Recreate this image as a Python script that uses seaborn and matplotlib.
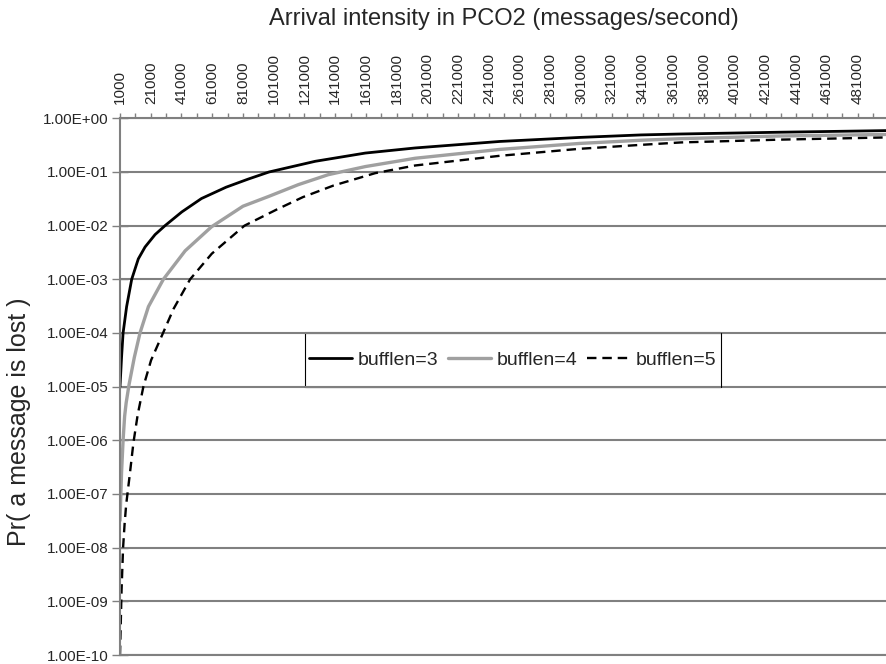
import numpy as np
import pandas as pd
import matplotlib
matplotlib.use('Agg')
import matplotlib.pyplot as plt
import matplotlib.ticker as mticker
from matplotlib.patches import Rectangle
import seaborn as sns

# arrival intensity (messages/second) and loss probability
x_b3 = [1000, 2000, 3000, 5300, 8600, 12900, 17300, 23800, 30300, 41200, 54000,
        70000, 84600, 98000, 128000, 160600, 193000, 248000, 300000, 340000,
        366000, 430000, 500000]
p_b3 = [1.0e-5, 3.5e-5, 1.0e-4, 3.1e-4, 1.0e-3, 2.4e-3, 4.0e-3, 6.8e-3, 1.0e-2,
        1.8e-2, 3.2e-2, 5.2e-2, 7.4e-2, 0.10, 0.158, 0.225, 0.28, 0.37, 0.44,
        0.49, 0.51, 0.55, 0.59]

x_b4 = [1000, 2000, 3000, 4000, 5000, 6900, 10300, 14000, 19500, 29200, 43400,
        60500, 81000, 97700, 117000, 136500, 160600, 193000, 248000, 300000,
        340000, 366000, 430000, 500000]
p_b4 = [3.2e-8, 2.5e-7, 1.0e-6, 2.8e-6, 5.0e-6, 1.1e-5, 3.5e-5, 1.0e-4, 3.1e-4,
        1.0e-3, 3.4e-3, 9.5e-3, 2.3e-2, 3.5e-2, 5.8e-2, 8.9e-2, 0.126, 0.18,
        0.263, 0.34, 0.39, 0.417, 0.468, 0.50]

x_b5 = [1000, 2000, 3000, 4000, 5000, 7500, 9700, 12500, 16200, 21200, 29000,
        35800, 46600, 60700, 82000, 103000, 120000, 140000, 167000, 193000,
        248000, 300000, 340000, 366000, 430000, 500000]
p_b5 = [1.0e-10, 1.6e-9, 1.0e-8, 2.8e-8, 6.3e-8, 2.5e-7, 8.9e-7, 3.0e-6, 1.0e-5,
        3.1e-5, 1.0e-4, 2.8e-4, 1.0e-3, 3.0e-3, 1.0e-2, 2.0e-2, 3.4e-2, 5.6e-2,
        9.5e-2, 0.132, 0.20, 0.27, 0.32, 0.355, 0.40, 0.44]

x_ticks = list(range(1000, 500001, 20000))
x_minor = list(range(11000, 500001, 20000))
y_ticks = [1e0, 1e-1, 1e-2, 1e-3, 1e-4, 1e-5, 1e-6, 1e-7, 1e-8, 1e-9, 1e-10]

sns.set_style("white")
plt.rcParams['font.family'] = ['Liberation Sans', 'DejaVu Sans']

fig = plt.figure(figsize=(8.87, 6.64), dpi=100)
ax = fig.add_axes([0.1353, 0.01355, 0.8647, 0.8083])

grid_col = '#808080'

sns.lineplot(x=x_b3, y=p_b3, ax=ax, color='black', linewidth=2.0,
             estimator=None, label='bufflen=3')
sns.lineplot(x=x_b4, y=p_b4, ax=ax, color='#a0a0a0', linewidth=2.4,
             estimator=None, label='bufflen=4')
sns.lineplot(x=x_b5, y=p_b5, ax=ax, color='black', linewidth=1.7,
             linestyle=(0, (4, 2.5)), estimator=None, label='bufflen=5')

ax.set_yscale('log')
ax.set_ylim(1e-10, 1e0)
ax.set_xlim(1000, 500000)

ax.yaxis.set_major_locator(mticker.FixedLocator(y_ticks))
ax.yaxis.set_minor_locator(mticker.NullLocator())
ax.yaxis.set_major_formatter(mticker.FuncFormatter(lambda v, pos: f"{v:.2E}"))
ax.xaxis.set_major_locator(mticker.FixedLocator(x_ticks))
ax.xaxis.set_minor_locator(mticker.FixedLocator(x_minor))
ax.xaxis.set_major_formatter(mticker.FuncFormatter(lambda v, pos: str(int(round(v)))))

ax.tick_params(axis='x', which='both', top=True, bottom=False, labeltop=True,
               labelbottom=False, direction='out', length=3.6, width=1,
               color=grid_col, labelrotation=90, labelsize=11, pad=7)
ax.tick_params(axis='y', which='major', left=True, direction='inout', length=11,
               width=1, color=grid_col, labelsize=11, pad=3)

ax.grid(axis='y', color=grid_col, linewidth=1.5)
ax.grid(axis='x', visible=False)
ax.set_axisbelow(True)
for side in ['left', 'top', 'bottom']:
    ax.spines[side].set_color(grid_col)
    ax.spines[side].set_linewidth(1.5)
ax.spines['right'].set_visible(False)

ax.set_xlabel('')
ax.set_ylabel('')

# legend box sits between the 1e-4 and 1e-5 gridlines
box = Rectangle((0.2415, 0.5), 0.5418, 0.1, transform=ax.transAxes,
                facecolor='white', edgecolor='black', linewidth=0.8, zorder=4)
ax.add_patch(box)
ax.hlines([0.5, 0.6], 0.2415, 0.7833, transform=ax.transAxes,
          colors=grid_col, linewidth=1.5, zorder=4.5)

leg = ax.legend(ncol=3, loc='center', bbox_to_anchor=(0.5124, 0.55),
                fontsize=14, frameon=False, handlelength=2.2,
                handletextpad=0.3, columnspacing=0.5, borderaxespad=0)
leg.set_zorder(5)

fig.text(504 / 887, 1 - 19 / 664, 'Arrival intensity in PCO2 (messages/second)',
         ha='center', va='center', fontsize=17)
fig.text(19 / 887, 1 - 422 / 664, 'Pr( a message is lost )', ha='center',
         va='center', rotation=90, fontsize=18)

fig.savefig('out.png', dpi=100)
